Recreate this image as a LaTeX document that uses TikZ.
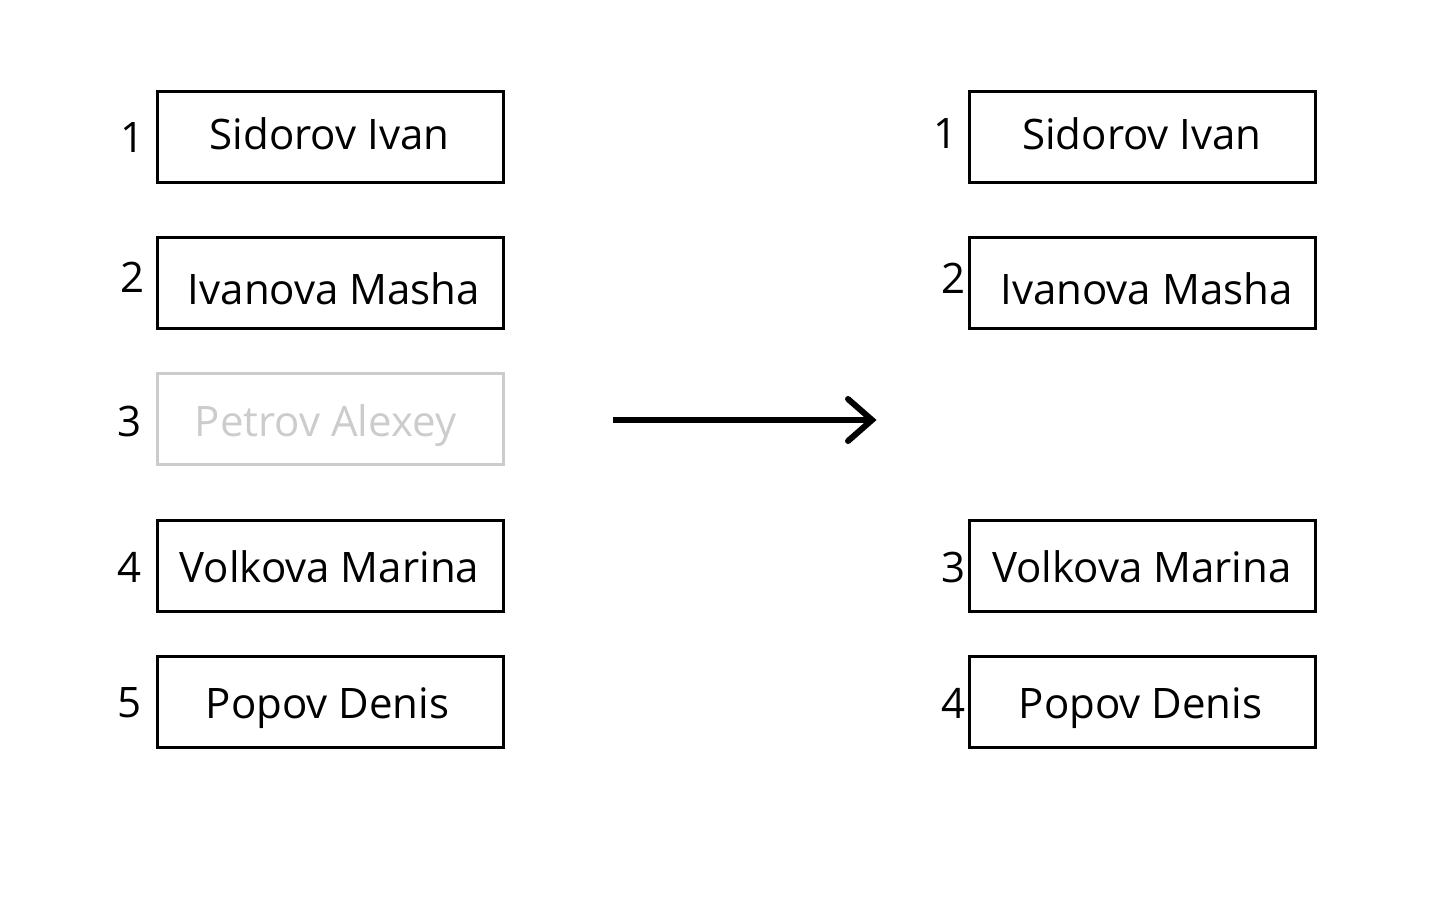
\documentclass[tikz,border=0pt]{standalone}
\usepackage{fontspec}
\setmainfont{Open Sans}
\begin{document}
\begin{tikzpicture}[x=1pt,y=-1pt,
  namebox/.style={draw=black,line width=3pt,minimum width=346pt,minimum height=91pt,inner sep=0pt},
  ghostbox/.style={draw=ghost,line width=3pt,minimum width=346pt,minimum height=91pt,inner sep=0pt},
  nametext/.style={anchor=base,font=\fontsize{42}{44}\selectfont,inner sep=0pt},
  numtext/.style={anchor=base,font=\fontsize{42}{44}\selectfont,inner sep=0pt}]
\definecolor{ghost}{HTML}{CCCCCC}
\useasboundingbox (0,0) rectangle (1432,900);
% left column
\node[namebox] (l1) at (330,136.5) {};
\node[namebox] (l2) at (330,282.5) {};
\node[ghostbox] (l3) at (330,418.5) {};
\node[namebox] (l4) at (330,565.5) {};
\node[namebox] (l5) at (330,701.5) {};
\node[nametext] (l1t) at (329.5,149) {Sidorov Ivan};
\node[nametext] (l2t) at (334,304) {Ivanova Masha};
\node[nametext,text=ghost] (l3t) at (325.5,436) {Petrov Alexey};
\node[nametext] (l4t) at (329.5,582) {Volkova Marina};
\node[nametext] (l5t) at (327.5,718) {Popov Denis};
\node[numtext] (l1n) at (133,152) {1};
\node[numtext] (l2n) at (133,292) {2};
\node[numtext] (l3n) at (130,436) {3};
\node[numtext] (l4n) at (130,582) {4};
\node[numtext] (l5n) at (130,717) {5};
% right column
\node[namebox] (r1) at (1142.5,136.5) {};
\node[namebox] (r2) at (1142.5,282.5) {};
\node[namebox] (r4) at (1142.5,565.5) {};
\node[namebox] (r5) at (1142.5,701.5) {};
\node[nametext] (r1t) at (1142,149) {Sidorov Ivan};
\node[nametext] (r2t) at (1146.5,304) {Ivanova Masha};
\node[nametext] (r4t) at (1142,582) {Volkova Marina};
\node[nametext] (r5t) at (1140.5,718) {Popov Denis};
\node[numtext] (r1n) at (945,148) {1};
\node[numtext] (r2n) at (953,293) {2};
\node[numtext] (r4n) at (953,582) {3};
\node[numtext] (r5n) at (953,718) {4};
% arrow
\coordinate (as) at (613,420);
\coordinate (ae) at (872,420);
\draw[line width=6pt] (as) -- (ae);
\draw[line width=6pt,line cap=round,line join=miter] (848,399) -- (ae) -- (848,441);
\end{tikzpicture}
\end{document}
